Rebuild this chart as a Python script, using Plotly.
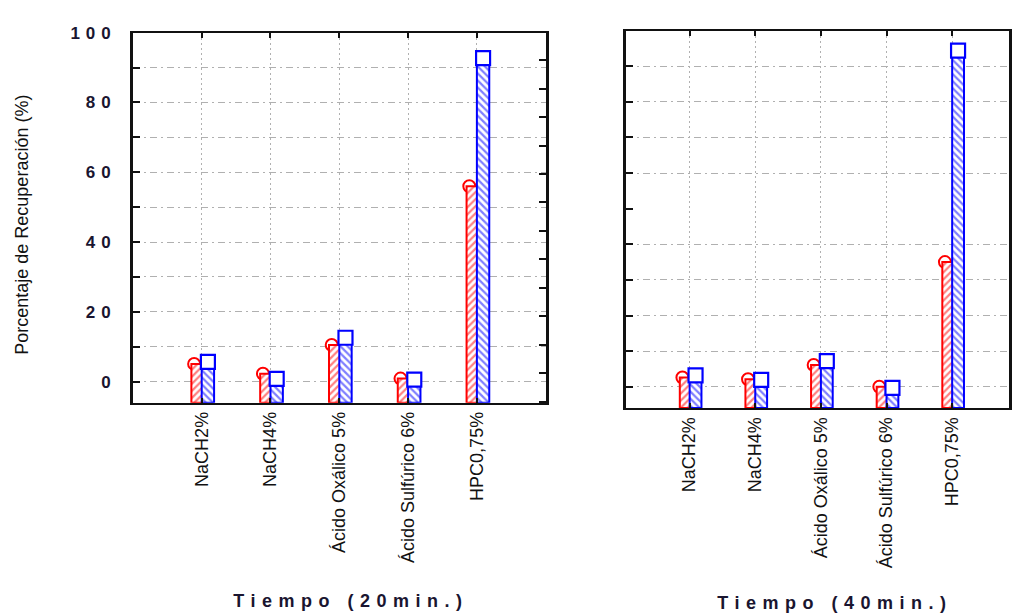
import numpy as np
import plotly.graph_objects as go

# ---------------- data ----------------
categories = ["NaCH2%", "NaCH4%", "Ácido Oxálico 5%", "Ácido Sulfúrico 6%", "HPC0,75%"]
red_20 = [5.1, 2.3, 10.5, 0.9, 56.0]
blue_20 = [5.7, 0.8, 12.6, 0.6, 92.7]
red_40 = [2.6, 2.1, 6.1, 0.0, 35.0]
blue_40 = [3.2, 1.9, 7.2, -0.3, 94.4]
y_tick_vals = [0, 20, 40, 60, 80, 100]
y_tick_text = ["0", "20", "40", "60", "80", "100"]
y_title = "Porcentaje de Recuperación (%)"
x_titles = ["Tiempo (20min.)", "Tiempo (40min.)"]

# ---------------- geometry / style ----------------
W, H = 1012, 616
Y_MIN, Y_MAX = -6, 100
RED = "#ff0000"
BLUE = "#0000ff"
AX = "#111111"
GRID = "#b0b0b0"
FONT = "Liberation Sans, Arial, sans-serif"


def px_x(p):
    return p / W


def px_y(p):
    return 1 - p / H


pos = np.arange(len(categories), dtype=float)

fig = go.Figure()


def add_panel(red, blue, xa, ya_base, ya_over):
    # red circles (beneath the bars)
    fig.add_trace(go.Scatter(
        x=pos - 0.11, y=red, mode="markers", xaxis=xa, yaxis=ya_base,
        marker=dict(symbol="circle", size=12, color="white",
                    line=dict(color=RED, width=2)),
        showlegend=False, hoverinfo="skip"))
    # red bars
    fig.add_trace(go.Bar(
        x=pos, y=np.array(red) - Y_MIN, base=Y_MIN, offset=-0.15, width=0.16,
        xaxis=xa, yaxis=ya_over,
        marker=dict(color="white", line=dict(color=RED, width=2),
                    pattern=dict(shape="/", fgcolor=RED, bgcolor="white",
                                 size=5, solidity=0.45)),
        showlegend=False))
    # blue bars
    fig.add_trace(go.Bar(
        x=pos, y=np.array(blue) - Y_MIN, base=Y_MIN, offset=0.0, width=0.18,
        xaxis=xa, yaxis=ya_over,
        marker=dict(color="white", line=dict(color=BLUE, width=2),
                    pattern=dict(shape="\\", fgcolor=BLUE, bgcolor="white",
                                 size=5, solidity=0.45)),
        showlegend=False))
    # blue squares
    fig.add_trace(go.Scatter(
        x=pos + 0.09, y=blue, mode="markers", xaxis=xa, yaxis=ya_over,
        marker=dict(symbol="square", size=14, color="white",
                    line=dict(color=BLUE, width=2.2)),
        showlegend=False, hoverinfo="skip"))


add_panel(red_20, blue_20, "x", "y", "y3")
add_panel(red_40, blue_40, "x2", "y2", "y4")
# empty trace so that the right-hand tick axis of the left panel is drawn
fig.add_trace(go.Scatter(x=[], y=[], xaxis="x", yaxis="y5", showlegend=False))

xcommon = dict(
    tickmode="array", tickvals=pos, ticktext=categories, tickangle=-90,
    ticks="inside", ticklen=5, tickwidth=2, tickcolor=AX,
    showline=True, linewidth=2, linecolor=AX, mirror="ticks",
    showgrid=True, gridcolor=GRID, gridwidth=1, griddash="2px,3px",
    zeroline=False, ticklabelstandoff=0,
    tickfont=dict(family=FONT, size=18, color=AX),
)

fig.update_layout(
    width=W, height=H, autosize=False,
    margin=dict(l=0, r=0, t=0, b=0),
    paper_bgcolor="white", plot_bgcolor="white",
    barmode="overlay", showlegend=False,
    xaxis=dict(domain=[px_x(133.3), px_x(547.3)], range=[-1.0, 5.0], anchor="y", **xcommon),
    xaxis2=dict(domain=[px_x(628.3), 1.0], range=[-0.963, 4.866], anchor="y2", **xcommon),
    yaxis=dict(
        domain=[px_y(399.5), px_y(24)], range=[Y_MIN, Y_MAX], anchor="x",
        tickmode="array", tickvals=y_tick_vals, ticktext=y_tick_text,
        ticks="inside", ticklen=7, tickwidth=2, tickcolor=AX,
        showline=True, linewidth=2.5, linecolor=AX, mirror=True,
        showgrid=True, gridcolor=GRID, gridwidth=1, griddash="7px,4px,2px,4px",
        minor=dict(dtick=10, tick0=0, ticks="inside", ticklen=7, tickwidth=2,
                   tickcolor=AX, showgrid=True, gridcolor=GRID, gridwidth=1,
                   griddash="7px,4px,2px,4px"),
        zeroline=False, ticklabelstandoff=10,
        tickfont=dict(family=FONT, size=17, color="#1a1530", weight="bold"),
    ),
    yaxis2=dict(
        domain=[px_y(405), px_y(22)], range=[Y_MIN, Y_MAX], anchor="x2",
        tickmode="array", tickvals=[0, 10, 20, 30, 40, 60, 70, 80, 90],
        showticklabels=False,
        ticks="inside", ticklen=7, tickwidth=2, tickcolor=AX,
        showline=True, linewidth=2.5, linecolor=AX, mirror=True,
        showgrid=True, gridcolor=GRID, gridwidth=1, griddash="7px,4px,2px,4px",
        minor=dict(tickmode="array", tickvals=[50], ticks="inside", ticklen=7,
                   tickwidth=2, tickcolor=AX, showgrid=False),
        zeroline=False,
    ),
    yaxis3=dict(overlaying="y", anchor="x", range=[Y_MIN, Y_MAX], visible=False),
    yaxis4=dict(overlaying="y2", anchor="x2", range=[Y_MIN, Y_MAX], visible=False),
    yaxis5=dict(overlaying="y", anchor="x", side="right", range=[-1.04, 11.97],
                tickmode="linear", tick0=0, dtick=1, ticks="inside", ticklen=7,
                tickwidth=2, tickcolor=AX, showticklabels=False, showgrid=False,
                zeroline=False, showline=False),
    annotations=[
        dict(text=y_title, xref="paper", yref="paper", x=px_x(22), y=px_y(219),
             textangle=-90, showarrow=False, xanchor="center", yanchor="middle",
             font=dict(family=FONT, size=18, color=AX)),
        dict(text=x_titles[0], xref="paper", yref="paper", x=px_x(352), y=px_y(601),
             showarrow=False, xanchor="center", yanchor="middle",
             font=dict(family=FONT, size=18, color="#1a1530", weight="bold")),
        dict(text=x_titles[1], xref="paper", yref="paper", x=px_x(837), y=px_y(603),
             showarrow=False, xanchor="center", yanchor="middle",
             font=dict(family=FONT, size=18, color="#1a1530", weight="bold")),
    ],
)

post = """
var gd = document.getElementById('{plot_id}');
function spaceText(){
  gd.querySelectorAll('g.ytick text').forEach(function(t){ t.style.letterSpacing = '6px'; });
  gd.querySelectorAll('.annotation-text').forEach(function(t){
    if (t.textContent.indexOf('Tiempo') === 0) { t.style.letterSpacing = '6.5px'; }
  });
}
spaceText();
gd.on('plotly_afterplot', spaceText);
"""

fig.write_html("out.html", post_script=post)
